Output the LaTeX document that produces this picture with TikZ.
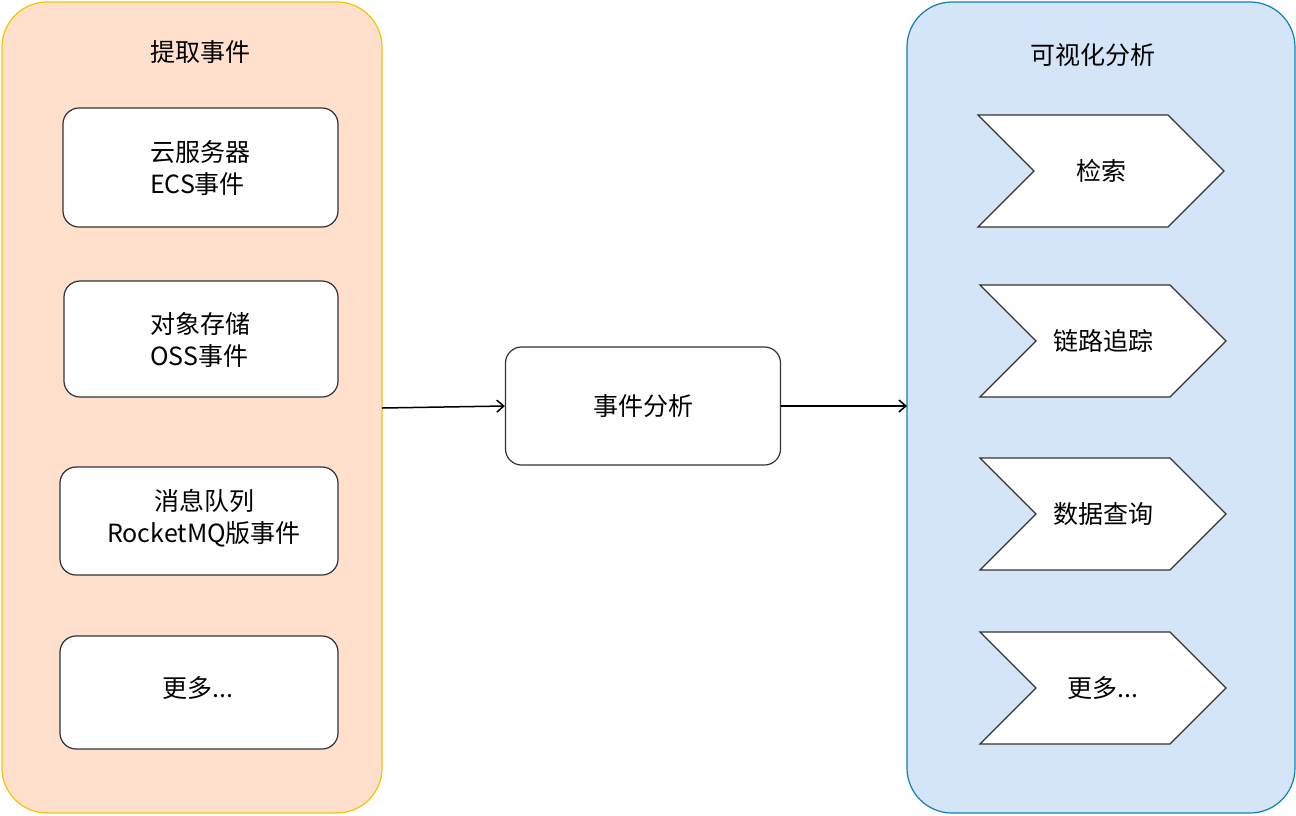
\documentclass[tikz,border=0pt]{standalone}
\usepackage{fontspec}
\setmainfont{Noto Sans CJK SC}
\usetikzlibrary{shapes.symbols, arrows.meta}
\definecolor{leftFill}{RGB}{255,224,204}
\definecolor{leftLine}{RGB}{245,196,0}
\definecolor{rightFill}{RGB}{212,229,247}
\definecolor{rightLine}{RGB}{20,126,180}
\definecolor{boxLine}{RGB}{51,51,51}
\tikzset{
  panel/.style={rounded corners=45pt, line width=1.2pt},
  item/.style={draw=boxLine, fill=white, rounded corners=16pt, line width=1.2pt,
    inner sep=0pt, align=left},
  chevron/.style={draw=boxLine, fill=white, signal, signal to=east, signal from=west,
    signal pointer angle=90, line width=1.2pt, minimum width=246pt,
    minimum height=112pt, inner sep=0pt},
  flow/.style={-{Straight Barb[length=7pt,width=12pt]}, line width=1.5pt}
}
\begin{document}
\begin{tikzpicture}[x=1pt, y=-1pt, font=\fontsize{25}{32}\selectfont]
\useasboundingbox (0,0) rectangle (1296,815);

% Left panel
\draw [panel, fill=leftFill, draw=leftLine] (2,2) rectangle (382,813);
\node (srcTitle) at (200,52) {提取事件};
\draw [item] (63,108) rectangle (338,227);
\node (ecs) at (200,168) [align=left] {云服务器\\ECS事件};
\draw [item] (64,281) rectangle (338,397);
\node (oss) at (200,340) [align=left] {对象存储\\OSS事件};
\draw [item] (60,467) rectangle (338,575);
\node (mq) at (204,518) [align=center] {消息队列\\RocketMQ版事件};
\draw [item] (60,636) rectangle (338,749);
\node (more1) at (198,688) {更多...};
\coordinate (srcOut) at (382,408);

% Middle
\node (analysis) at (643,406) [draw=boxLine, fill=white, rounded corners=16pt,
  line width=1.2pt, minimum width=275pt, minimum height=118pt] {事件分析};

% Right panel
\draw [panel, fill=rightFill, draw=rightLine] (907,2) rectangle (1295,813);
\coordinate (visIn) at (907,406);
\node (visTitle) at (1093,55) {可视化分析};
\node (search) at (1101,171) [chevron] {检索};
\node (trace) at (1103,341) [chevron] {链路追踪};
\node (query) at (1103,514) [chevron] {数据查询};
\node (more2) at (1103,688) [chevron] {更多...};

% Arrows
\draw [flow] (srcOut) -- (analysis.west);
\draw [flow] (analysis.east) -- (visIn);

\end{tikzpicture}
\end{document}
